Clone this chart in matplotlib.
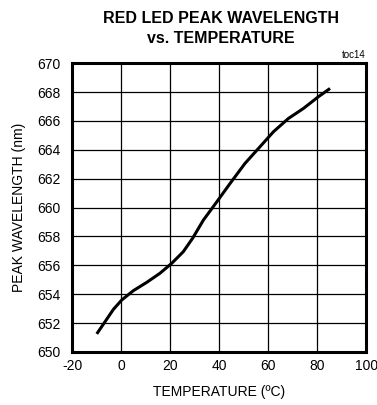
import matplotlib
matplotlib.use("Agg")
import matplotlib.pyplot as plt
from matplotlib.ticker import MultipleLocator

plt.rcParams["font.family"] = ["Liberation Sans", "DejaVu Sans"]
plt.rcParams["axes.unicode_minus"] = False

temperature = [-9.9, -6.5, -3.1, 0.3, 5.0, 10.5, 15.9, 20.7, 25.4, 29.2,
               33.6, 39.1, 44.5, 50.6, 56.7, 62.2, 68.3, 74.4, 80.5, 85.3]
wavelength = [651.25, 652.1, 652.95, 653.6, 654.24, 654.82, 655.45, 656.14,
              656.94, 657.87, 659.13, 660.4, 661.67, 663.06, 664.21, 665.25,
              666.17, 666.86, 667.67, 668.25]

fig = plt.figure(figsize=(3.77, 4.05), dpi=100)
ax = fig.add_axes([0.191, 0.131, 0.780, 0.713])

ax.plot(temperature, wavelength, color="black", lw=2.2,
        solid_capstyle="butt", solid_joinstyle="round")

ax.set_xlim(-20, 100)
ax.set_ylim(650, 670)
ax.xaxis.set_major_locator(MultipleLocator(20))
ax.yaxis.set_major_locator(MultipleLocator(2))
ax.grid(True, color="black", lw=0.9)
ax.set_axisbelow(True)
for s in ax.spines.values():
    s.set_linewidth(2.2)
ax.tick_params(length=0, labelsize=10)
ax.tick_params(axis="y", pad=8)
ax.tick_params(axis="x", pad=5)

ax.set_xlabel("TEMPERATURE (ºC)", fontsize=10, labelpad=9)
ax.set_ylabel("PEAK WAVELENGTH (nm)", fontsize=10, labelpad=8)
fig.text(0.586, 0.972, "RED LED PEAK WAVELENGTH\nvs. TEMPERATURE", ha="center", va="top",
         fontsize=11.5, fontweight="bold", linespacing=1.4)
ax.text(1.0, 1.01, "toc14", transform=ax.transAxes, ha="right", va="bottom", fontsize=7)

fig.savefig("out.png", dpi=100)
